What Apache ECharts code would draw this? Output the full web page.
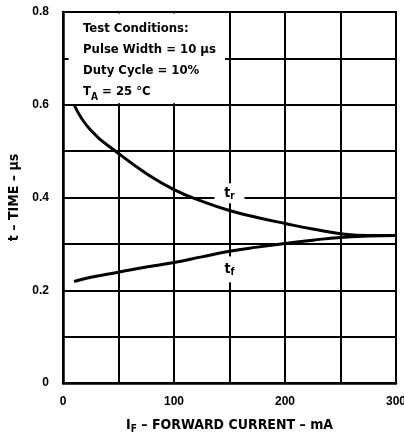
<!DOCTYPE html>
<html>
<head>
<meta charset="utf-8">
<script src="https://cdn.jsdelivr.net/npm/echarts@6/dist/echarts.min.js"></script>
<style>
  html, body { margin: 0; padding: 0; background: #fff; }
  #chart { width: 404px; height: 434px; }
</style>
</head>
<body>
<div id="chart"></div>
<script>
// forward current (mA) vs switching time (us)
const currents = [10, 25, 50, 75, 100, 125, 150, 175, 200, 225, 250, 275, 300];
const riseTime = [0.600, 0.545, 0.495, 0.452, 0.417, 0.392, 0.372, 0.357, 0.344, 0.332, 0.322, 0.318, 0.318];
const fallTime = [0.219, 0.228, 0.239, 0.250, 0.260, 0.272, 0.284, 0.293, 0.301, 0.308, 0.314, 0.317, 0.318];

const conditions = [
  'Test Conditions:',
  'Pulse Width = 10 \u03bcs',
  'Duty Cycle = 10%',
  '{m|T}{s|A}{m| = 25 \u00b0C}'
];

const FONT = 'Liberation Sans';
const NARROW = '"Liberation Sans Narrow", "DejaVu Sans Condensed", sans-serif';

function pairs(ys) {
  return currents.map((x, i) => [x, ys[i]]);
}

const chart = echarts.init(document.getElementById('chart'), null, { renderer: 'canvas' });

// label with white box so the grid lines break around it
function curveLabel(coord, main, sub, w, h) {
  return {
    coord: coord,
    symbol: 'rect',
    symbolSize: [w, h],
    itemStyle: { color: '#fff' },
    label: {
      show: true,
      position: 'inside',
      formatter: '{m|' + main + '}{s|' + sub + '}',
      rich: {
        m: { fontFamily: NARROW, fontSize: 14, fontWeight: 'bold', color: '#000' },
        s: { fontFamily: NARROW, fontSize: 10, fontWeight: 'bold', color: '#000', verticalAlign: 'bottom', padding: [6, 0, 0, 0] }
      }
    }
  };
}

chart.setOption({
  animation: false,
  grid: {
    left: 63, right: 8, top: 12, bottom: 51,
    outerBoundsMode: 'none',
    containLabel: false,
    show: true, borderColor: '#000', borderWidth: 2
  },
  xAxis: {
    type: 'value',
    min: 0, max: 300, interval: 50,
    name: '{m|I}{s|F}{m| \u2013 FORWARD CURRENT \u2013 mA}',
    nameLocation: 'middle',
    nameGap: 33,
    nameTextStyle: {
      rich: {
        m: { fontFamily: NARROW, fontSize: 14, fontWeight: 'bold', color: '#000' },
        s: { fontFamily: NARROW, fontSize: 10, fontWeight: 'bold', color: '#000', verticalAlign: 'bottom', padding: [8, 0, 0, 0] }
      }
    },
    axisLine: { lineStyle: { color: '#000', width: 2.5 } },
    axisTick: { show: false },
    axisLabel: {
      fontFamily: FONT, fontSize: 12, fontWeight: 'bold', color: '#000', margin: 13,
      formatter: v => (v % 100 === 0 ? String(v) : '')
    },
    splitLine: { show: true, lineStyle: { color: '#000', width: 2 } }
  },
  yAxis: {
    type: 'value',
    min: 0, max: 0.8, interval: 0.1,
    name: 't \u2013 TIME \u2013 \u03bcs',
    nameLocation: 'middle',
    nameRotate: 90,
    nameGap: 40,
    nameTextStyle: { fontFamily: NARROW, fontSize: 14, fontWeight: 'bold', color: '#000' },
    axisLine: { show: true, lineStyle: { color: '#000', width: 2.5 } },
    axisTick: { show: false },
    axisLabel: {
      fontFamily: FONT, fontSize: 12, fontWeight: 'bold', color: '#000', margin: 14,
      formatter: v => {
        const k = Math.round(v * 10);
        if (k % 2 !== 0) return '';
        return k === 0 ? '0' : (k / 10).toFixed(1);
      }
    },
    splitLine: { show: true, lineStyle: { color: '#000', width: 2 } }
  },
  graphic: [{
    type: 'text',
    left: 83, top: 18,
    z: 100,
    style: {
      text: conditions.join('\n'),
      fontFamily: NARROW,
      fontSize: 13,
      fontWeight: 'bold',
      lineHeight: 21,
      fill: '#000',
      rich: {
        m: { fontFamily: NARROW, fontSize: 13, fontWeight: 'bold', lineHeight: 21 },
        s: { fontFamily: NARROW, fontSize: 10, fontWeight: 'bold', verticalAlign: 'bottom', padding: [8, 0, 0, 0] }
      }
    }
  }],
  series: [
    {
      name: 'tr',
      type: 'line',
      smooth: true,
      symbol: 'none',
      silent: true,
      data: pairs(riseTime),
      lineStyle: { color: '#000', width: 3 },
      // blank area behind the test-condition text
      markArea: {
        silent: true,
        itemStyle: { color: '#fff' },
        data: [[{ coord: [5, 0.603] }, { coord: [146, 0.797] }]]
      },
      markPoint: {
        silent: true,
        data: [curveLabel([150, 0.409], 't', 'r', 30, 20)]
      }
    },
    {
      name: 'tf',
      type: 'line',
      smooth: true,
      symbol: 'none',
      silent: true,
      data: pairs(fallTime),
      lineStyle: { color: '#000', width: 3 },
      markPoint: {
        silent: true,
        data: [curveLabel([150, 0.245], 't', 'f', 14, 26)]
      }
    }
  ]
});
</script>
</body>
</html>
